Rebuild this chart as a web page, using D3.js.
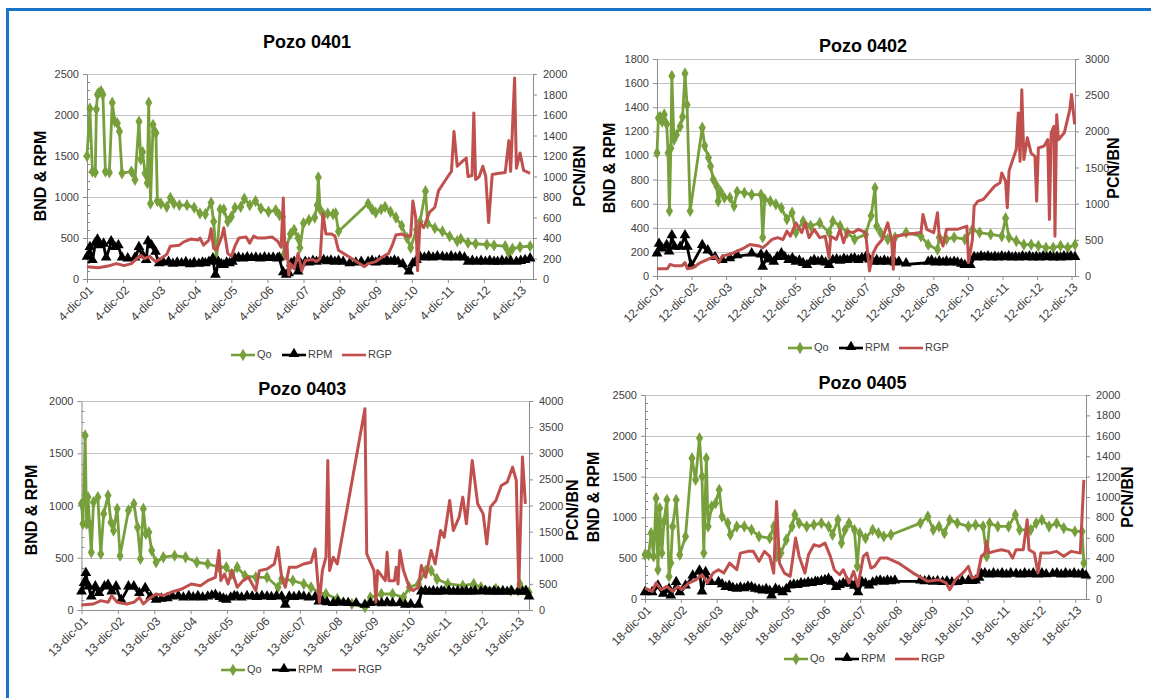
<!DOCTYPE html>
<html>
<head>
<meta charset="utf-8">
<script src="https://cdn.jsdelivr.net/npm/d3@7"></script>
<style>
  body { margin: 0; background: #fff; }
  svg { display: block; }
  text { font-family: "Liberation Sans", Arial, sans-serif; }
</style>
</head>
<body>
<svg id="chart" width="1151" height="698"></svg>
<script>
// years shown on every x axis (one tick per year, same day each well)
const yearLabels = ['01', '02', '03', '04', '05', '06', '07', '08', '09', '10', '11', '12', '13'];
const seriesNames = ['Qo', 'RPM', 'RGP'];

// [years since first tick, value]
const qo0401 = [[0,1500],[0.08,2080],[0.15,1310],[0.23,1300],[0.26,2070],[0.29,2250],[0.33,2270],[0.39,2290],[0.44,2250],[0.51,1310],[0.62,1300],[0.70,2150],[0.77,1920],[0.84,1900],[0.90,1800],[0.97,1290],[1.23,1310],[1.33,1210],[1.44,1920],[1.49,1460],[1.54,1550],[1.61,1290],[1.67,1170],[1.71,2150],[1.76,920],[1.83,1880],[1.87,1800],[1.91,1780],[1.95,950],[2.05,920],[2.21,880],[2.31,990],[2.41,920],[2.56,900],[2.77,900],[2.97,870],[3.13,800],[3.28,790],[3.44,930],[3.51,700],[3.59,240],[3.69,850],[3.79,850],[3.90,700],[4.00,760],[4.10,870],[4.26,880],[4.36,980],[4.51,900],[4.67,950],[4.82,860],[5.03,820],[5.23,840],[5.33,780],[5.42,760],[5.46,300],[5.64,550],[5.74,600],[5.85,500],[5.90,380],[6.00,680],[6.15,720],[6.31,750],[6.38,900],[6.41,1240],[6.46,850],[6.56,780],[6.67,800],[6.82,790],[6.89,800],[6.97,580],[7.79,920],[7.90,850],[8.00,810],[8.15,850],[8.26,880],[8.41,820],[8.56,750],[8.72,650],[8.87,500],[8.97,380],[9.13,600],[9.23,700],[9.38,1070],[9.44,680],[9.64,620],[9.85,580],[10.05,520],[10.26,460],[10.36,490],[10.56,440],[10.77,430],[11.08,420],[11.28,410],[11.59,400],[11.69,320],[11.79,370],[12.00,390],[12.28,400]];
const rpm0401 = [[0,260],[0.08,380],[0.15,220],[0.23,430],[0.29,470],[0.36,400],[0.46,420],[0.53,250],[0.67,450],[0.77,380],[0.87,400],[0.97,250],[1.13,240],[1.33,250],[1.44,380],[1.54,280],[1.64,220],[1.69,450],[1.79,400],[1.90,320],[2.00,180],[2.12,190],[2.26,200],[2.38,175],[2.5,190],[2.62,180],[2.74,195],[2.86,170],[2.97,190],[3.1,175],[3.2,190],[3.28,180],[3.38,200],[3.49,240],[3.56,40],[3.64,200],[3.72,170],[3.79,160],[3.87,190],[3.95,180],[4.03,200],[4.10,240],[4.2,250],[4.32,240],[4.44,255],[4.56,245],[4.68,250],[4.8,240],[4.92,255],[5.04,245],[5.16,250],[5.28,240],[5.33,250],[5.44,70],[5.52,40],[5.59,60],[5.66,180],[5.74,200],[5.85,80],[5.92,180],[6.05,200],[6.15,190],[6.26,210],[6.36,200],[6.46,215],[6.56,220],[6.66,205],[6.76,215],[6.87,200],[6.97,210],[7.1,200],[7.28,180],[7.45,190],[7.6,200],[7.79,200],[7.9,210],[8.0,190],[8.1,215],[8.2,200],[8.31,220],[8.42,200],[8.52,215],[8.62,200],[8.75,170],[8.92,80],[9.03,180],[9.13,220],[9.23,260],[9.35,250],[9.47,265],[9.59,250],[9.71,265],[9.85,260],[9.97,250],[10.09,265],[10.21,250],[10.33,262],[10.46,250],[10.56,200],[10.68,210],[10.8,200],[10.92,210],[11.04,200],[11.16,210],[11.28,200],[11.38,200],[11.5,210],[11.62,200],[11.74,210],[11.90,200],[12.02,210],[12.14,220],[12.28,240]];
const rgp0401 = [[0,120],[0.31,110],[0.62,130],[0.82,150],[1.03,130],[1.23,150],[1.38,200],[1.49,230],[1.59,200],[1.74,220],[1.90,170],[2.05,200],[2.21,240],[2.31,320],[2.56,330],[2.67,360],[2.87,390],[3.08,380],[3.13,400],[3.23,330],[3.38,380],[3.44,490],[3.51,300],[3.59,280],[3.74,420],[3.79,500],[3.90,250],[4.00,220],[4.10,320],[4.21,400],[4.41,410],[4.51,350],[4.62,420],[4.72,400],[4.92,400],[5.13,410],[5.28,370],[5.38,310],[5.44,790],[5.49,200],[5.54,350],[5.59,40],[5.64,150],[5.74,100],[5.85,250],[5.95,80],[6.05,180],[6.26,190],[6.36,170],[6.46,200],[6.54,640],[6.62,440],[6.77,440],[6.87,420],[6.97,280],[7.38,190],[7.69,120],[7.79,150],[8.00,170],[8.21,220],[8.36,250],[8.46,330],[8.56,430],[8.72,440],[8.82,420],[8.97,420],[9.03,760],[9.11,600],[9.16,80],[9.23,550],[9.33,500],[9.49,650],[9.64,700],[9.74,860],[9.85,920],[10.00,1000],[10.10,1050],[10.17,1440],[10.26,1100],[10.41,1150],[10.51,1180],[10.56,1000],[10.67,1010],[10.72,1620],[10.77,970],[10.87,1000],[10.97,1100],[11.05,1000],[11.13,550],[11.23,1020],[11.38,1030],[11.59,1040],[11.69,1350],[11.74,1050],[11.85,1960],[11.90,1080],[12.00,1230],[12.10,1060],[12.28,1030]];

const qo0402 = [[0,1020],[0.04,1310],[0.09,1320],[0.15,1280],[0.21,1340],[0.28,1260],[0.32,1020],[0.36,540],[0.40,1060],[0.43,1660],[0.49,1130],[0.56,1170],[0.67,1240],[0.74,1320],[0.81,1680],[0.87,1420],[0.96,540],[1.31,1230],[1.38,1080],[1.49,980],[1.55,910],[1.63,800],[1.73,745],[1.77,620],[1.84,700],[1.95,650],[2.11,650],[2.23,580],[2.32,700],[2.53,690],[2.74,675],[3.01,675],[3.06,320],[3.12,635],[3.28,620],[3.44,595],[3.60,565],[3.76,470],[3.91,525],[4.02,360],[4.23,455],[4.45,415],[4.71,440],[4.98,360],[5.09,455],[5.30,415],[5.51,360],[5.72,305],[6.04,345],[6.20,500],[6.31,730],[6.36,415],[6.47,360],[6.68,305],[6.89,320],[7.21,360],[7.64,330],[7.85,260],[8.12,220],[8.17,320],[8.38,305],[8.60,320],[8.91,305],[9.13,385],[9.34,360],[9.66,345],[9.98,330],[10.09,480],[10.19,320],[10.40,290],[10.62,260],[10.83,260],[11.04,250],[11.26,235],[11.47,235],[11.68,250],[11.89,235],[12.1,260]];
const rpm0402 = [[0,180],[0.06,260],[0.15,220],[0.28,250],[0.35,195],[0.43,330],[0.51,235],[0.67,235],[0.81,330],[0.88,235],[0.99,83],[1.31,250],[1.47,205],[1.68,150],[1.89,125],[2.11,140],[2.32,165],[2.74,180],[3.01,170],[3.06,70],[3.17,165],[3.27,130],[3.38,110],[3.48,150],[3.60,180],[3.70,150],[3.81,125],[3.92,140],[4.02,110],[4.12,120],[4.23,100],[4.34,83],[4.45,110],[4.55,125],[4.66,110],[4.77,120],[4.88,105],[4.98,83],[5.09,125],[5.2,130],[5.3,120],[5.41,135],[5.51,125],[5.62,135],[5.72,140],[5.83,125],[5.93,140],[6.04,150],[6.15,130],[6.26,110],[6.36,125],[6.47,110],[6.58,120],[6.68,110],[6.79,120],[6.89,105],[7.0,110],[7.21,97],[7.85,110],[7.95,120],[8.06,105],[8.17,115],[8.28,105],[8.38,115],[8.49,105],[8.60,110],[8.70,105],[8.81,95],[8.91,83],[9.07,83],[9.18,150],[9.28,145],[9.38,155],[9.48,148],[9.58,155],[9.68,145],[9.78,152],[9.88,145],[9.98,155],[10.08,148],[10.18,155],[10.28,145],[10.38,150],[10.48,145],[10.58,155],[10.68,148],[10.78,155],[10.88,145],[10.98,152],[11.08,145],[11.18,155],[11.28,148],[11.38,155],[11.48,145],[11.58,152],[11.68,145],[11.78,155],[11.88,148],[11.98,155],[12.1,150]];
const rgp0402 = [[0,100],[0.30,100],[0.38,160],[0.51,140],[0.72,140],[0.81,185],[0.88,100],[1.04,115],[1.26,185],[1.47,230],[1.68,275],[1.79,185],[1.89,275],[2.11,300],[2.32,345],[2.53,390],[2.69,435],[2.96,415],[3.06,390],[3.17,435],[3.33,505],[3.49,530],[3.65,505],[3.76,620],[3.86,550],[4.02,735],[4.19,600],[4.29,735],[4.40,530],[4.55,645],[4.71,530],[4.87,550],[4.98,253],[5.03,550],[5.19,505],[5.30,645],[5.40,460],[5.51,620],[5.67,600],[5.83,645],[6.04,600],[6.15,70],[6.26,320],[6.36,415],[6.52,505],[6.68,735],[6.79,505],[6.84,92],[6.89,550],[7.21,575],[7.64,600],[7.70,850],[7.81,645],[8.01,600],[8.12,875],[8.17,550],[8.28,415],[8.38,645],[8.70,645],[8.97,690],[9.02,185],[9.13,505],[9.18,965],[9.29,1035],[9.45,1060],[9.61,1150],[9.77,1240],[9.93,1290],[9.98,1425],[10.09,1310],[10.14,945],[10.19,1450],[10.30,1610],[10.40,1750],[10.46,2255],[10.51,1585],[10.56,2575],[10.62,1610],[10.72,1910],[10.83,1700],[10.94,1655],[10.99,1035],[11.04,1770],[11.20,1795],[11.31,1885],[11.36,780],[11.41,1980],[11.49,2070],[11.52,550],[11.57,2230],[11.62,1885],[11.79,1980],[11.95,2300],[12.0,2510],[12.09,2095]];

const qo0403 = [[0,1016],[0.04,825],[0.10,1670],[0.14,825],[0.18,1080],[0.22,825],[0.27,553],[0.33,1032],[0.45,1080],[0.53,537],[0.61,920],[0.73,1096],[0.81,840],[0.88,760],[0.98,968],[1.06,520],[1.29,952],[1.44,1016],[1.54,792],[1.62,489],[1.70,968],[1.77,728],[1.85,744],[1.93,569],[2.05,457],[2.25,505],[2.56,520],[2.86,505],[3.17,457],[3.47,441],[3.78,409],[3.98,409],[4.13,345],[4.28,409],[4.49,329],[4.79,313],[5.10,313],[5.40,217],[5.50,297],[5.81,281],[6.11,249],[6.31,217],[6.52,169],[6.72,153],[7.03,105],[7.43,58],[7.79,26],[7.94,121],[8.24,153],[8.55,153],[8.85,121],[9.01,217],[9.26,249],[9.46,377],[9.61,377],[9.77,297],[10.07,249],[10.48,233],[10.78,249],[10.98,217],[11.39,201],[11.80,185],[12.0,185],[12.05,249],[12.2,185],[12.3,169]];
const rpm0403 = [[0,169],[0.07,249],[0.12,345],[0.20,217],[0.27,121],[0.38,217],[0.48,153],[0.63,217],[0.73,233],[0.83,169],[0.95,217],[1.09,89],[1.29,217],[1.44,217],[1.59,153],[1.75,201],[1.90,121],[2.05,89],[2.2,100],[2.36,105],[2.5,120],[2.66,128],[2.8,110],[2.95,125],[3.07,112],[3.2,125],[3.33,110],[3.47,121],[3.58,130],[3.68,137],[3.8,115],[3.9,100],[3.98,89],[4.1,110],[4.2,125],[4.28,121],[4.4,110],[4.55,125],[4.69,121],[4.82,115],[4.96,125],[5.10,121],[5.22,115],[5.36,125],[5.50,121],[5.60,42],[5.71,121],[5.84,115],[5.98,125],[6.11,121],[6.25,110],[6.42,115],[6.52,73],[6.62,80],[6.75,65],[6.92,58],[7.05,70],[7.2,60],[7.33,58],[7.55,55],[7.79,42],[7.94,58],[8.1,65],[8.25,55],[8.4,65],[8.55,55],[8.75,58],[8.90,42],[9.05,45],[9.26,42],[9.34,169],[9.45,175],[9.56,165],[9.67,172],[9.78,165],[9.89,172],[9.97,169],[10.1,175],[10.22,165],[10.34,172],[10.46,165],[10.58,172],[10.7,165],[10.82,172],[10.98,169],[11.1,175],[11.22,165],[11.34,172],[11.46,165],[11.58,172],[11.7,165],[11.82,172],[12.0,169],[12.12,165],[12.22,172],[12.3,121]];
const rgp0403 = [[0,96],[0.33,115],[0.53,179],[0.73,147],[0.83,275],[0.98,147],[1.24,115],[1.44,147],[1.59,243],[1.70,115],[1.85,211],[2.05,307],[2.25,275],[2.46,339],[2.76,403],[3.02,498],[3.27,466],[3.47,562],[3.68,626],[3.78,1137],[3.83,562],[3.93,690],[4.03,498],[4.13,754],[4.28,434],[4.44,562],[4.59,626],[4.79,371],[4.89,754],[5.10,786],[5.30,882],[5.40,1201],[5.50,626],[5.60,434],[5.71,818],[5.91,818],[6.11,882],[6.31,914],[6.42,1169],[6.47,754],[6.54,147],[6.62,754],[6.72,1010],[6.77,2863],[6.82,754],[6.92,1010],[7.03,882],[7.79,3853],[7.84,1073],[8.04,754],[8.09,147],[8.14,754],[8.35,562],[8.40,1105],[8.45,562],[8.60,562],[8.65,818],[8.70,498],[8.75,1137],[8.85,754],[9.01,434],[9.11,371],[9.26,434],[9.34,850],[9.46,626],[9.61,1137],[9.72,882],[9.87,1521],[9.97,1393],[10.12,2096],[10.22,1521],[10.38,1776],[10.48,2160],[10.58,1649],[10.74,2863],[10.89,2032],[11.04,1840],[11.14,1265],[11.24,1968],[11.39,2096],[11.54,2383],[11.70,2447],[11.85,2735],[11.95,2479],[12.02,434],[12.12,2927],[12.20,2032]];

const qo0405 = [[0,542],[0.10,542],[0.17,807],[0.24,522],[0.31,1236],[0.36,359],[0.41,1113],[0.47,563],[0.53,950],[0.61,1215],[0.67,277],[0.72,440],[0.77,889],[0.87,1215],[0.97,542],[1.13,767],[1.31,1725],[1.41,1460],[1.52,1970],[1.59,1500],[1.64,563],[1.71,1725],[1.76,889],[1.86,1134],[1.97,1174],[2.07,1338],[2.15,1011],[2.31,930],[2.38,787],[2.56,889],[2.77,889],[2.97,848],[3.18,767],[3.48,746],[3.59,889],[3.67,522],[3.79,563],[3.94,726],[4.10,889],[4.18,1032],[4.30,930],[4.51,889],[4.71,909],[4.92,930],[5.12,889],[5.23,787],[5.38,970],[5.48,685],[5.58,848],[5.69,930],[5.84,848],[5.92,400],[5.99,807],[6.15,746],[6.35,848],[6.51,807],[6.66,767],[6.86,787],[7.68,930],[7.89,1011],[8.04,848],[8.20,889],[8.35,807],[8.50,970],[8.71,930],[9.02,889],[9.22,909],[9.43,889],[9.53,522],[9.61,930],[9.84,889],[10.14,889],[10.33,1032],[10.45,848],[10.76,848],[10.91,930],[11.07,970],[11.27,889],[11.48,930],[11.68,869],[11.99,828],[12.19,828],[12.24,440]];
const rpm0405 = [[0,73],[0.20,73],[0.36,155],[0.51,53],[0.67,114],[0.72,33],[0.87,196],[0.97,73],[1.13,155],[1.33,277],[1.52,338],[1.59,82],[1.69,318],[1.84,196],[2.05,196],[2.15,170],[2.25,135],[2.35,150],[2.45,125],[2.56,114],[2.66,130],[2.77,120],[2.87,140],[2.97,135],[3.07,115],[3.18,105],[3.28,94],[3.38,110],[3.48,90],[3.53,33],[3.64,114],[3.74,95],[3.84,73],[3.94,110],[4.05,155],[4.15,165],[4.25,160],[4.35,180],[4.45,175],[4.55,190],[4.65,185],[4.75,200],[4.82,196],[4.92,210],[5.02,220],[5.12,237],[5.2,200],[5.33,135],[5.43,160],[5.53,180],[5.64,196],[5.74,175],[5.84,150],[5.94,73],[6.05,196],[6.15,180],[6.25,155],[6.35,190],[6.46,205],[6.56,216],[6.66,200],[6.76,215],[6.86,205],[6.97,216],[7.68,216],[7.8,205],[7.92,215],[8.04,200],[8.16,210],[8.30,196],[8.42,205],[8.56,195],[8.71,196],[8.85,210],[9.02,216],[9.12,210],[9.22,216],[9.32,250],[9.38,298],[9.48,305],[9.6,290],[9.72,305],[9.84,292],[9.96,305],[10.08,290],[10.2,305],[10.35,298],[10.47,290],[10.59,305],[10.71,292],[10.83,305],[10.95,290],[11.07,305],[11.19,292],[11.37,298],[11.49,305],[11.61,290],[11.73,305],[11.85,292],[11.97,305],[12.09,290],[12.2,300],[12.30,277]];
const rgp0405 = [[0,108],[0.20,75],[0.31,157],[0.46,91],[0.61,124],[0.77,75],[0.92,124],[1.02,91],[1.23,157],[1.43,189],[1.59,238],[1.74,157],[1.90,254],[2.05,287],[2.20,254],[2.36,352],[2.56,287],[2.66,450],[2.87,467],[3.02,467],[3.18,369],[3.33,467],[3.48,418],[3.59,254],[3.67,956],[3.75,352],[3.89,254],[4.05,222],[4.20,597],[4.30,418],[4.46,254],[4.56,434],[4.71,532],[4.86,516],[5.02,548],[5.17,418],[5.28,287],[5.43,238],[5.53,287],[5.69,157],[5.82,271],[5.94,124],[6.09,418],[6.19,450],[6.30,303],[6.40,320],[6.56,401],[6.76,401],[7.07,352],[7.48,254],[7.89,173],[8.20,189],[8.40,157],[8.50,91],[8.66,189],[8.91,271],[9.02,320],[9.12,206],[9.27,222],[9.38,418],[9.48,450],[9.53,565],[9.59,450],[9.73,467],[9.94,483],[10.14,467],[10.25,401],[10.35,483],[10.55,483],[10.66,777],[10.71,483],[10.86,450],[10.96,254],[11.04,450],[11.27,450],[11.48,467],[11.68,418],[11.89,467],[12.14,450],[12.24,1168]];

const colors = { qo: '#77a03c', rpm: '#000000', rgp: '#c0504d' };
const axisColor = '#8c8c8c';
const gridColor = '#c4c4c4';
const labelColor = '#404040';

const panels = [
  { title: 'Pozo 0401', day: '4', qo: qo0401, rpm: rpm0401, rgp: rgp0401,
    leftMax: 2500, leftStep: 500, rightMax: 2000, rightStep: 200, xMax: 12.36,
    x0: 87, x1: 533, y0: 74, y1: 279, titleY: 43,
    leftTitleX: 42, rightTitleX: 581, axisTitleY: 176, legendX: 231, legendY: 355 },
  { title: 'Pozo 0402', day: '12', qo: qo0402, rpm: rpm0402, rgp: rgp0402,
    leftMax: 1800, leftStep: 200, rightMax: 3000, rightStep: 500, xMax: 12.1,
    x0: 657, x1: 1075, y0: 59, y1: 276, titleY: 47,
    leftTitleX: 611, rightTitleX: 1115, axisTitleY: 168, legendX: 788, legendY: 348 },
  { title: 'Pozo 0403', day: '13', qo: qo0403, rpm: rpm0403, rgp: rgp0403,
    leftMax: 2000, leftStep: 500, rightMax: 4000, rightStep: 500, xMax: 12.3,
    x0: 81.5, x1: 529, y0: 401, y1: 610, titleY: 390,
    leftTitleX: 33, rightTitleX: 574, axisTitleY: 510, legendX: 221, legendY: 670 },
  { title: 'Pozo 0405', day: '18', qo: qo0405, rpm: rpm0405, rgp: rgp0405,
    leftMax: 2500, leftStep: 500, rightMax: 2000, rightStep: 200, xMax: 12.3,
    x0: 645, x1: 1086, y0: 395, y1: 599, titleY: 384,
    leftTitleX: 595, rightTitleX: 1129, axisTitleY: 497, legendX: 784, legendY: 659 }
];

const svg = d3.select('#chart');

// blue frame (top and left edges)
svg.append('line').attr('x1', 6).attr('y1', 9.5).attr('x2', 1151).attr('y2', 9.5)
  .attr('stroke', '#1b73c9').attr('stroke-width', 3);
svg.append('line').attr('x1', 7.5).attr('y1', 8).attr('x2', 7.5).attr('y2', 698)
  .attr('stroke', '#1b73c9').attr('stroke-width', 3);

const diamond = d3.symbol().type(d3.symbolDiamond).size(44);
const triangle = d3.symbol().type(d3.symbolTriangle).size(50);
const plain = d3.format('d');

function styleAxis(sel) {
  sel.select('.domain').attr('stroke', axisColor);
  sel.selectAll('.tick line').attr('stroke', axisColor);
  sel.selectAll('.tick text').attr('fill', labelColor).style('font-size', '11px');
}

function drawPanel(p) {
  const g = svg.append('g');
  const x = d3.scaleLinear().domain([0, p.xMax]).range([p.x0, p.x1]);
  const yL = d3.scaleLinear().domain([0, p.leftMax]).range([p.y1, p.y0]);
  const yR = d3.scaleLinear().domain([0, p.rightMax]).range([p.y1, p.y0]);
  const leftTicks = d3.range(0, p.leftMax + 1, p.leftStep);
  const rightTicks = d3.range(0, p.rightMax + 1, p.rightStep);
  const yearTicks = d3.range(0, yearLabels.length);

  // gridlines
  g.selectAll('.grid')
    .data(leftTicks.slice(1))
    .join('line')
    .attr('x1', p.x0).attr('x2', p.x1)
    .attr('y1', (d) => Math.round(yL(d)) + 0.5)
    .attr('y2', (d) => Math.round(yL(d)) + 0.5)
    .attr('stroke', gridColor).attr('stroke-width', 1);

  // minor ticks inside left axis
  if (p.leftStep === 500) {
    g.selectAll('.minor')
      .data(d3.range(100, p.leftMax, 100).filter((d) => d % 500 !== 0))
      .join('line')
      .attr('x1', p.x0).attr('x2', p.x0 + 3)
      .attr('y1', (d) => Math.round(yL(d)) + 0.5)
      .attr('y2', (d) => Math.round(yL(d)) + 0.5)
      .attr('stroke', axisColor);
  }

  g.append('g')
    .attr('transform', `translate(${p.x0},0)`)
    .call(d3.axisLeft(yL).tickValues(leftTicks).tickFormat(plain)
      .tickSize(4).tickSizeOuter(0).tickPadding(4))
    .call(styleAxis);

  g.append('g')
    .attr('transform', `translate(${p.x1},0)`)
    .call(d3.axisRight(yR).tickValues(rightTicks).tickFormat(plain)
      .tickSize(4).tickSizeOuter(0).tickPadding(6))
    .call(styleAxis);

  g.append('g')
    .attr('transform', `translate(0,${p.y1})`)
    .call(d3.axisBottom(x).tickValues(yearTicks).tickSize(4).tickSizeOuter(0).tickFormat(() => ''))
    .call(styleAxis);

  g.selectAll('.xlabel')
    .data(yearTicks)
    .join('text')
    .attr('transform', (d) => `translate(${x(d) + 4},${p.y1 + 9}) rotate(-45)`)
    .attr('text-anchor', 'end')
    .attr('dy', '0.35em')
    .attr('fill', labelColor)
    .style('font-size', '12px')
    .text((d) => `${p.day}-dic-${yearLabels[d]}`);

  // titles
  g.append('text')
    .attr('x', (p.x0 + p.x1) / 2 - 3).attr('y', p.titleY)
    .attr('text-anchor', 'middle').attr('dominant-baseline', 'middle')
    .style('font-size', '18px').style('font-weight', 'bold')
    .text(p.title);

  g.append('text')
    .attr('transform', `translate(${p.leftTitleX},${p.axisTitleY}) rotate(-90)`)
    .attr('text-anchor', 'middle').attr('dominant-baseline', 'middle')
    .style('font-size', '16px').style('font-weight', 'bold')
    .text('BND & RPM');

  g.append('text')
    .attr('transform', `translate(${p.rightTitleX},${p.axisTitleY}) rotate(-90)`)
    .attr('text-anchor', 'middle').attr('dominant-baseline', 'middle')
    .style('font-size', '16px').style('font-weight', 'bold')
    .text('PCN/BN');

  // series
  const lineL = d3.line().x((d) => x(d[0])).y((d) => yL(d[1]));
  const lineR = d3.line().x((d) => x(d[0])).y((d) => yR(d[1]));

  g.append('path').datum(p.qo)
    .attr('fill', 'none').attr('stroke', colors.qo).attr('stroke-width', 2.8)
    .attr('stroke-linejoin', 'round').attr('d', lineL);
  g.selectAll('.qo-dot').data(p.qo).join('path')
    .attr('transform', (d) => `translate(${x(d[0])},${yL(d[1])})`)
    .attr('d', diamond).attr('fill', colors.qo);

  g.append('path').datum(p.rpm)
    .attr('fill', 'none').attr('stroke', colors.rpm).attr('stroke-width', 2.8)
    .attr('stroke-linejoin', 'round').attr('d', lineL);
  g.selectAll('.rpm-dot').data(p.rpm).join('path')
    .attr('transform', (d) => `translate(${x(d[0])},${yL(d[1]) - 1})`)
    .attr('d', triangle).attr('fill', colors.rpm);

  g.append('path').datum(p.rgp)
    .attr('fill', 'none').attr('stroke', colors.rgp).attr('stroke-width', 3)
    .attr('stroke-linejoin', 'round').attr('d', lineR);

  // legend
  const legendOffsets = [0, 51, 111];
  seriesNames.forEach((name, i) => {
    const lx = p.legendX + legendOffsets[i];
    const key = name.toLowerCase();
    const item = g.append('g').attr('transform', `translate(${lx},${p.legendY})`);
    item.append('line').attr('x1', 0).attr('x2', 24).attr('y1', 0).attr('y2', 0)
      .attr('stroke', colors[key]).attr('stroke-width', 2.6);
    if (key === 'qo') item.append('path').attr('transform', 'translate(12,0)').attr('d', diamond).attr('fill', colors.qo);
    if (key === 'rpm') item.append('path').attr('transform', 'translate(12,-1)').attr('d', triangle).attr('fill', colors.rpm);
    item.append('text').attr('x', 26).attr('y', 0).attr('dominant-baseline', 'middle')
      .attr('fill', labelColor).style('font-size', '11px').text(name);
  });
}

panels.forEach(drawPanel);
</script>
</body>
</html>
